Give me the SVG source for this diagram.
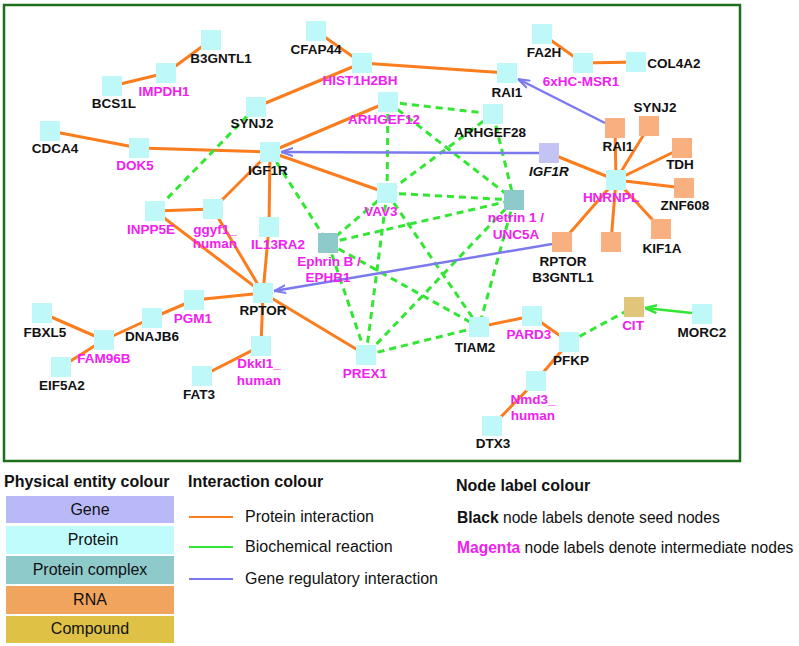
<svg xmlns="http://www.w3.org/2000/svg" width="799" height="646" viewBox="0 0 799 646">
<style>
text{font-family:"Liberation Sans",Arial,sans-serif}
.pr{fill:#bff8f8}
.cx{fill:#8fcaca}
.rn{fill:#f8b080}
.gn{fill:#c4c4f4}
.cp{fill:#e0c57a}
.lb{font-size:13.5px;font-weight:bold;fill:#111;text-anchor:middle}
.lm{font-size:13.5px;font-weight:bold;fill:#f020f0;text-anchor:middle}
.o{stroke:#fb7d1e;stroke-width:3;fill:none}
.g{stroke:#33e633;stroke-width:3;stroke-dasharray:7 5;fill:none}
.b{stroke:#7a7aee;stroke-width:2.5;fill:none}
.gs{stroke:#33e633;stroke-width:2.5;fill:none}
.lt{font-size:16px;font-weight:bold;fill:#111}
.lx{font-size:16px;fill:#111}
.ln{font-size:15.6px;fill:#111}
</style>
<defs>
<marker id="ab" viewBox="0 0 12 10" refX="12" refY="5" markerWidth="12" markerHeight="10" markerUnits="userSpaceOnUse" orient="auto">
<path d="M0,1 L12,5 L0,9" stroke="#7a7aee" stroke-width="2" fill="none"/>
</marker>
<marker id="ag" viewBox="0 0 12 10" refX="12" refY="5" markerWidth="12" markerHeight="10" markerUnits="userSpaceOnUse" orient="auto">
<path d="M0,1 L12,5 L0,9" stroke="#33e633" stroke-width="2.5" fill="none"/>
</marker>
</defs>
<rect x="0" y="0" width="799" height="646" fill="#fff"/>
<rect id="frame" x="4" y="5" width="736" height="456" fill="none" stroke="#1d6f1d" stroke-width="2.5"/>
<g id="connectors">
<g class="o">
<line x1="211" y1="40" x2="166" y2="73"/>
<line x1="166" y1="73" x2="112" y2="86"/>
<line x1="316" y1="31" x2="362" y2="63"/>
<line x1="362" y1="63" x2="256" y2="107"/>
<line x1="362" y1="63" x2="507" y2="73"/>
<line x1="50" y1="131" x2="139" y2="148"/>
<line x1="139" y1="148" x2="270" y2="152"/>
<line x1="270" y1="152" x2="388" y2="102"/>
<line x1="270" y1="152" x2="387" y2="193"/>
<line x1="270" y1="152" x2="213" y2="209"/>
<line x1="270" y1="152" x2="269" y2="227"/>
<line x1="155" y1="211" x2="213" y2="209"/>
<line x1="155" y1="211" x2="263" y2="293"/>
<line x1="213" y1="209" x2="263" y2="293"/>
<line x1="269" y1="227" x2="263" y2="293"/>
<line x1="263" y1="293" x2="194" y2="300"/>
<line x1="263" y1="293" x2="261" y2="346"/>
<line x1="263" y1="293" x2="366" y2="355"/>
<line x1="194" y1="300" x2="152" y2="318"/>
<line x1="152" y1="318" x2="104" y2="340"/>
<line x1="104" y1="340" x2="42" y2="313"/>
<line x1="104" y1="340" x2="61" y2="367"/>
<line x1="261" y1="346" x2="202" y2="376"/>
<line x1="542" y1="34" x2="583" y2="63"/>
<line x1="583" y1="63" x2="636" y2="62"/>
<line x1="616" y1="180" x2="615" y2="128"/>
<line x1="616" y1="180" x2="649" y2="126"/>
<line x1="616" y1="180" x2="682" y2="148"/>
<line x1="616" y1="180" x2="684" y2="188"/>
<line x1="616" y1="180" x2="661" y2="229"/>
<line x1="616" y1="180" x2="611" y2="242"/>
<line x1="616" y1="180" x2="562" y2="242"/>
<line x1="616" y1="180" x2="549" y2="153"/>
<line x1="479" y1="327" x2="532" y2="316"/>
<line x1="532" y1="316" x2="569" y2="342"/>
<line x1="569" y1="342" x2="536" y2="381"/>
<line x1="536" y1="381" x2="492" y2="426"/>
</g>
<g class="g">
<line x1="256" y1="107" x2="155" y2="211"/>
<line x1="270" y1="152" x2="328" y2="243"/>
<line x1="388" y1="102" x2="493" y2="114"/>
<line x1="388" y1="102" x2="387" y2="193"/>
<line x1="388" y1="102" x2="514" y2="200"/>
<line x1="493" y1="114" x2="387" y2="193"/>
<line x1="493" y1="114" x2="514" y2="200"/>
<line x1="387" y1="193" x2="514" y2="200"/>
<line x1="387" y1="193" x2="328" y2="243"/>
<line x1="387" y1="193" x2="366" y2="355"/>
<line x1="387" y1="193" x2="479" y2="327"/>
<line x1="328" y1="243" x2="514" y2="200"/>
<line x1="328" y1="243" x2="366" y2="355"/>
<line x1="328" y1="243" x2="479" y2="327"/>
<line x1="514" y1="200" x2="366" y2="355"/>
<line x1="514" y1="200" x2="479" y2="327"/>
<line x1="366" y1="355" x2="479" y2="327"/>
<line x1="569" y1="342" x2="634" y2="307"/>
</g>
<line class="b" x1="539" y1="153" x2="281" y2="152" marker-end="url(#ab)"/>
<line class="b" x1="605" y1="123" x2="518" y2="79" marker-end="url(#ab)"/>
<line class="b" x1="552" y1="244" x2="274" y2="291" marker-end="url(#ab)"/>
<line class="gs" x1="692" y1="313" x2="645" y2="308" marker-end="url(#ag)"/>
</g>
<g id="n-B3GNTL1"><rect class="pr" x="201" y="30" width="20" height="20"/><text class="lb" x="221" y="63">B3GNTL1</text></g>
<g id="n-IMPDH1"><rect class="pr" x="156" y="63" width="20" height="20"/><text class="lm" x="164" y="96">IMPDH1</text></g>
<g id="n-BCS1L"><rect class="pr" x="102" y="76" width="20" height="20"/><text class="lb" x="114" y="108">BCS1L</text></g>
<g id="n-CDCA4"><rect class="pr" x="40" y="121" width="20" height="20"/><text class="lb" x="55" y="153">CDCA4</text></g>
<g id="n-DOK5"><rect class="pr" x="129" y="138" width="20" height="20"/><text class="lm" x="135" y="170">DOK5</text></g>
<g id="n-SYNJ2"><rect class="pr" x="246" y="97" width="20" height="20"/><text class="lb" x="252" y="128">SYNJ2</text></g>
<g id="n-IGF1R"><rect class="pr" x="260" y="142" width="20" height="20"/><text class="lb" x="268" y="175">IGF1R</text></g>
<g id="n-CFAP44"><rect class="pr" x="306" y="21" width="20" height="20"/><text class="lb" x="316" y="54">CFAP44</text></g>
<g id="n-HIST1H2BH"><rect class="pr" x="352" y="53" width="20" height="20"/><text class="lm" x="360" y="85">HIST1H2BH</text></g>
<g id="n-RAI1"><rect class="pr" x="497" y="63" width="20" height="20"/><text class="lb" x="507" y="97">RAI1</text></g>
<g id="n-ARHGEF12"><rect class="pr" x="378" y="92" width="20" height="20"/><text class="lm" x="384" y="124">ARHGEF12</text></g>
<g id="n-ARHGEF28"><rect class="pr" x="483" y="104" width="20" height="20"/><text class="lb" x="490" y="137">ARHGEF28</text></g>
<g id="n-VAV3"><rect class="pr" x="377" y="183" width="20" height="20"/><text class="lm" x="381" y="216">VAV3</text></g>
<g id="n-netrin"><rect class="cx" x="504" y="190" width="20" height="20"/><text class="lm" x="516" y="222">netrin 1 /</text><text class="lm" x="516" y="239">UNC5A</text></g>
<g id="n-INPP5E"><rect class="pr" x="145" y="201" width="20" height="20"/><text class="lm" x="151" y="234">INPP5E</text></g>
<g id="n-ggyf1"><rect class="pr" x="203" y="199" width="20" height="20"/><text class="lm" x="215" y="234">ggyf1_</text><text class="lm" x="215" y="248">human</text></g>
<g id="n-IL13RA2"><rect class="pr" x="259" y="217" width="20" height="20"/><text class="lm" x="278" y="249">IL13RA2</text></g>
<g id="n-Ephrin"><rect class="cx" x="318" y="233" width="20" height="20"/><text class="lm" x="329" y="266">Ephrin B /</text><text class="lm" x="328" y="282">EPHB1</text></g>
<g id="n-RPTOR"><rect class="pr" x="253" y="283" width="20" height="20"/><text class="lb" x="263" y="315">RPTOR</text></g>
<g id="n-PGM1"><rect class="pr" x="184" y="290" width="20" height="20"/><text class="lm" x="193" y="323">PGM1</text></g>
<g id="n-DNAJB6"><rect class="pr" x="142" y="308" width="20" height="20"/><text class="lb" x="152" y="341">DNAJB6</text></g>
<g id="n-FBXL5"><rect class="pr" x="32" y="303" width="20" height="20"/><text class="lb" x="45" y="337">FBXL5</text></g>
<g id="n-FAM96B"><rect class="pr" x="94" y="330" width="20" height="20"/><text class="lm" x="104" y="363">FAM96B</text></g>
<g id="n-EIF5A2"><rect class="pr" x="51" y="357" width="20" height="20"/><text class="lb" x="62" y="390">EIF5A2</text></g>
<g id="n-FAT3"><rect class="pr" x="192" y="366" width="20" height="20"/><text class="lb" x="199" y="399">FAT3</text></g>
<g id="n-Dkkl1"><rect class="pr" x="251" y="336" width="20" height="20"/><text class="lm" x="259" y="368">Dkkl1_</text><text class="lm" x="259" y="385">human</text></g>
<g id="n-PREX1"><rect class="pr" x="356" y="345" width="20" height="20"/><text class="lm" x="365" y="378">PREX1</text></g>
<g id="n-TIAM2"><rect class="pr" x="469" y="317" width="20" height="20"/><text class="lb" x="475" y="352">TIAM2</text></g>
<g id="n-PARD3"><rect class="pr" x="522" y="306" width="20" height="20"/><text class="lm" x="529" y="339">PARD3</text></g>
<g id="n-PFKP"><rect class="pr" x="559" y="332" width="20" height="20"/><text class="lb" x="571" y="365">PFKP</text></g>
<g id="n-Nmd3"><rect class="pr" x="526" y="371" width="20" height="20"/><text class="lm" x="533" y="404">Nmd3_</text><text class="lm" x="533" y="420">human</text></g>
<g id="n-DTX3"><rect class="pr" x="482" y="416" width="20" height="20"/><text class="lb" x="493" y="448">DTX3</text></g>
<g id="n-FA2H"><rect class="pr" x="532" y="24" width="20" height="20"/><text class="lb" x="544" y="57">FA2H</text></g>
<g id="n-6xHC-MSR1"><rect class="pr" x="573" y="53" width="20" height="20"/><text class="lm" x="581" y="86">6xHC-MSR1</text></g>
<g id="n-COL4A2"><rect class="pr" x="626" y="52" width="20" height="20"/><text class="lb" x="674" y="68">COL4A2</text></g>
<g id="n-MORC2"><rect class="pr" x="692" y="304" width="20" height="20"/><text class="lb" x="702" y="337">MORC2</text></g>
<g id="n-HNRNPL"><rect class="pr" x="606" y="170" width="20" height="20"/><text class="lm" x="611" y="202">HNRNPL</text></g>
<g id="n-RAI1-rna"><rect class="rn" x="605" y="118" width="20" height="20"/><text class="lb" x="618" y="151">RAI1</text></g>
<g id="n-SYNJ2-rna"><rect class="rn" x="639" y="116" width="20" height="20"/><text class="lb" x="655" y="112">SYNJ2</text></g>
<g id="n-TDH"><rect class="rn" x="672" y="138" width="20" height="20"/><text class="lb" x="680" y="169">TDH</text></g>
<g id="n-ZNF608"><rect class="rn" x="674" y="178" width="20" height="20"/><text class="lb" x="685" y="210">ZNF608</text></g>
<g id="n-KIF1A"><rect class="rn" x="651" y="219" width="20" height="20"/><text class="lb" x="662" y="253">KIF1A</text></g>
<g id="n-rna-unlabeled"><rect class="rn" x="601" y="232" width="20" height="20"/></g>
<g id="n-RPTOR-B3GNTL1"><rect class="rn" x="552" y="232" width="20" height="20"/><text class="lb" x="563" y="266">RPTOR</text><text class="lb" x="563" y="282">B3GNTL1</text></g>
<g id="n-IGF1R-gene"><rect class="gn" x="539" y="143" width="20" height="20"/><text class="lb" x="549" y="176" font-style="italic">IGF1R</text></g>
<g id="n-CIT"><rect class="cp" x="624" y="297" width="20" height="20"/><text class="lm" x="633" y="330">CIT</text></g>
<g id="legend">
<text class="lt" x="4" y="487">Physical entity colour</text>
<rect x="6" y="496" width="168" height="27" fill="#b9b9f7"/>
<rect x="6" y="526" width="168" height="28" fill="#c0fcfc"/>
<rect x="6" y="556" width="168" height="28" fill="#8ecaca"/>
<rect x="6" y="586" width="168" height="28" fill="#f0a45e"/>
<rect x="6" y="616" width="168" height="27" fill="#dfc146"/>
<text class="lx" x="90" y="515" text-anchor="middle">Gene</text>
<text class="lx" x="93" y="545" text-anchor="middle">Protein</text>
<text class="lx" x="90" y="575" text-anchor="middle">Protein complex</text>
<text class="lx" x="90" y="605" text-anchor="middle">RNA</text>
<text class="lx" x="90" y="634" text-anchor="middle">Compound</text>
<text class="lt" x="188" y="487">Interaction colour</text>
<line x1="189" y1="517" x2="233" y2="517" stroke="#fb7d1e" stroke-width="2"/>
<line x1="189" y1="547" x2="233" y2="547" stroke="#33e633" stroke-width="2"/>
<line x1="189" y1="579" x2="233" y2="579" stroke="#7a7aee" stroke-width="2"/>
<text class="lx" x="245" y="522">Protein interaction</text>
<text class="lx" x="245" y="552">Biochemical reaction</text>
<text class="lx" x="245" y="584">Gene regulatory interaction</text>
<text class="lt" x="456" y="491">Node label colour</text>
<text class="ln" x="457" y="523"><tspan font-weight="bold">Black</tspan> node labels denote seed nodes</text>
<text class="ln" x="457" y="553"><tspan font-weight="bold" fill="#f020f0">Magenta</tspan> node labels denote intermediate nodes</text>
</g>
</svg>
